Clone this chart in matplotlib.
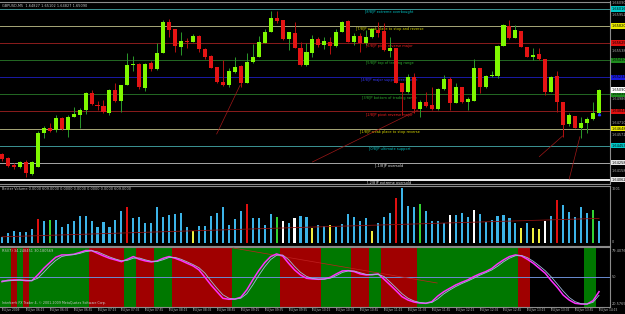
import numpy as np
import matplotlib
matplotlib.use("Agg")
import matplotlib.pyplot as plt

plt.rcParams['font.family'] = 'DejaVu Sans'

# ------------------------------------------------------------------ data
title = 'GBPUSD,M5  1.64827 1.65102 1.64827 1.65090'
vol_title = 'Better Volume 0.0000 609.0000 0.0000 0.0000 0.0000 0.0000 609.0000'
rsi_title = 'RSI(7) 34.248451 30.180569'
footer = 'Interbank FX Trader 4, \u00a9 2001-2009 MetaQuotes Software Corp.'

opens = [1.64357, 1.64311, 1.64230, 1.64207, 1.64265, 1.64127, 1.64207, 1.64597, 1.64655, 1.64632,
         1.64769, 1.64632, 1.64781, 1.64804, 1.64861, 1.65056, 1.64918, 1.64907, 1.64827, 1.65090,
         1.64964, 1.65148, 1.65377, 1.65388, 1.65113, 1.65400, 1.65331, 1.65514, 1.65870, 1.65790,
         1.65583, 1.65652, 1.65641, 1.65709, 1.65560, 1.65480, 1.65354, 1.65182, 1.65148, 1.65297,
         1.65365, 1.65171, 1.65411, 1.65469, 1.65629, 1.65755, 1.65916, 1.65893, 1.65675, 1.65744,
         1.65572, 1.65377, 1.65514, 1.65675, 1.65606, 1.65641, 1.65595, 1.65755, 1.65881, 1.65641,
         1.65709, 1.65629, 1.65698, 1.65778, 1.65767, 1.65537, 1.65572, 1.65171, 1.65067, 1.65239,
         1.64872, 1.64953, 1.64918, 1.64872, 1.65102, 1.65216, 1.64941, 1.65125, 1.64953, 1.64964,
         1.65342, 1.65125, 1.65251, 1.65251, 1.65595, 1.65824, 1.65686, 1.65767, 1.65583, 1.65469,
         1.65503, 1.65446, 1.65067, 1.65251, 1.64953, 1.64700, 1.64792, 1.64655, 1.64712, 1.64758,
         1.64827]
highs = [1.64368, 1.64322, 1.64253, 1.64276, 1.64288, 1.64276, 1.64620, 1.64678, 1.64712, 1.64804,
         1.64781, 1.64804, 1.64895, 1.64884, 1.65067, 1.65090, 1.64964, 1.64976, 1.65102, 1.65171,
         1.65148, 1.65514, 1.65480, 1.65400, 1.65400, 1.65423, 1.65629, 1.65893, 1.65904, 1.65790,
         1.65755, 1.65686, 1.65732, 1.65721, 1.65572, 1.65491, 1.65354, 1.65434, 1.65342, 1.65469,
         1.65377, 1.65514, 1.65618, 1.65709, 1.65790, 1.65996, 1.65996, 1.65893, 1.65755, 1.65870,
         1.65641, 1.65629, 1.65721, 1.65698, 1.65698, 1.65698, 1.65790, 1.65881, 1.65893, 1.65744,
         1.65744, 1.65778, 1.65801, 1.65870, 1.65858, 1.65698, 1.65572, 1.65171, 1.65274, 1.65285,
         1.64976, 1.65067, 1.65125, 1.65113, 1.65262, 1.65239, 1.65171, 1.65125, 1.65010, 1.65446,
         1.65342, 1.65262, 1.65308, 1.65606, 1.65847, 1.65893, 1.65835, 1.65767, 1.65583, 1.65572,
         1.65572, 1.65446, 1.65251, 1.65308, 1.64953, 1.64827, 1.64792, 1.64781, 1.64781, 1.64953,
         1.65102]
lows = [1.64276, 1.64207, 1.64185, 1.64196, 1.64093, 1.64116, 1.64207, 1.64540, 1.64609, 1.64609,
        1.64632, 1.64551, 1.64781, 1.64655, 1.64815, 1.64918, 1.64861, 1.64827, 1.64804, 1.64953,
        1.64838, 1.65148, 1.65308, 1.65102, 1.65079, 1.65308, 1.65320, 1.65514, 1.65698, 1.65526,
        1.65491, 1.65572, 1.65641, 1.65526, 1.65446, 1.65342, 1.65171, 1.65136, 1.65125, 1.65285,
        1.65125, 1.65171, 1.65400, 1.65469, 1.65629, 1.65755, 1.65858, 1.65663, 1.65549, 1.65572,
        1.65365, 1.65365, 1.65469, 1.65583, 1.65560, 1.65503, 1.65583, 1.65755, 1.65641, 1.65606,
        1.65526, 1.65606, 1.65686, 1.65698, 1.65537, 1.65469, 1.65171, 1.64804, 1.65056, 1.64827,
        1.64781, 1.64895, 1.64861, 1.64861, 1.65090, 1.64861, 1.64941, 1.64941, 1.64861, 1.64964,
        1.65056, 1.65113, 1.65239, 1.65228, 1.65595, 1.65675, 1.65686, 1.65583, 1.65469, 1.65434,
        1.65434, 1.65033, 1.65067, 1.64838, 1.64551, 1.64678, 1.64655, 1.64540, 1.64597, 1.64746,
        1.64827]
closes = [1.64299, 1.64219, 1.64207, 1.64265, 1.64139, 1.64265, 1.64597, 1.64655, 1.64620, 1.64769,
          1.64643, 1.64781, 1.64815, 1.64861, 1.65056, 1.64930, 1.64907, 1.64838, 1.65090, 1.64964,
          1.65148, 1.65377, 1.65388, 1.65125, 1.65388, 1.65331, 1.65514, 1.65870, 1.65778, 1.65595,
          1.65652, 1.65641, 1.65709, 1.65560, 1.65469, 1.65342, 1.65182, 1.65148, 1.65308, 1.65354,
          1.65171, 1.65411, 1.65469, 1.65641, 1.65755, 1.65916, 1.65881, 1.65675, 1.65755, 1.65572,
          1.65377, 1.65526, 1.65675, 1.65606, 1.65652, 1.65595, 1.65755, 1.65870, 1.65641, 1.65709,
          1.65629, 1.65698, 1.65790, 1.65744, 1.65549, 1.65572, 1.65171, 1.65067, 1.65239, 1.64872,
          1.64953, 1.64907, 1.64872, 1.65102, 1.65216, 1.64941, 1.65125, 1.64953, 1.64987, 1.65342,
          1.65125, 1.65251, 1.65262, 1.65595, 1.65835, 1.65686, 1.65778, 1.65583, 1.65469, 1.65491,
          1.65446, 1.65067, 1.65239, 1.64953, 1.64689, 1.64804, 1.64655, 1.64712, 1.64758, 1.64827,
          1.65090]

volumes = [166, 277, 332, 305, 305, 388, 665, 609, 637, 637,
           443, 526, 609, 748, 748, 609, 443, 582, 443, 637,
           886, 997, 693, 720, 554, 554, 997, 720, 776, 803,
           831, 443, 332, 471, 471, 748, 831, 997, 499, 665,
           886, 1080, 693, 693, 499, 803, 720, 609, 554, 693,
           748, 720, 416, 499, 471, 499, 443, 526, 803, 720,
           609, 693, 332, 554, 720, 831, 1247, 1524, 1025, 997,
           1080, 886, 609, 609, 554, 776, 776, 831, 720, 914,
           803, 582, 637, 748, 776, 693, 554, 416, 554, 416,
           388, 609, 748, 1191, 1053, 859, 720, 997, 831, 914,
           609]
# c=normal, r=climax, g=churn, w=low volume churn, y=low volume
vol_kind = list('ccccccrcgccccccccccccrccccccccccyccccccccrccccgwcwccyccyccccccycccrcccgccccwcccwcccccccycyywcrcccccgc')
vol_ma_bars = [0, 52, 100]
vol_ma = [180, 450, 690]

rsi = [45.2, 46.7, 47.1, 47.1, 46.3, 46.3, 52.6, 59.9, 66.1, 72.0,
       74.6, 74.6, 75.3, 77.2, 79.4, 79.4, 76.4, 73.5, 70.9, 69.1,
       67.2, 69.8, 72.8, 69.8, 68.0, 66.9, 68.0, 70.9, 72.8, 70.9,
       68.4, 65.4, 62.5, 58.1, 50.0, 41.6, 34.2, 26.9, 25.8, 26.1,
       28.0, 36.1, 47.1, 57.3, 66.1, 72.8, 75.7, 73.5, 65.4, 58.1,
       52.6, 48.9, 48.2, 47.8, 48.2, 50.0, 53.7, 57.0, 57.3, 56.2,
       53.7, 52.6, 52.9, 53.7, 47.8, 41.6, 35.3, 28.7, 25.0, 22.8,
       21.7, 21.4, 23.2, 29.4, 34.2, 37.9, 41.6, 44.5, 47.1, 50.7,
       53.7, 56.2, 59.5, 64.7, 69.1, 72.8, 74.6, 73.5, 69.8, 65.4,
       59.9, 54.4, 46.3, 39.0, 30.5, 25.0, 21.4, 20.6, 20.6, 24.3,
       34.2]
rsi_signal = [46.0, 46.0, 46.6, 46.9, 46.8, 46.4, 49.0, 55.5, 62.5, 68.5,
              72.8, 74.3, 74.9, 76.2, 78.2, 79.2, 78.0, 75.2, 72.4, 70.1,
              68.2, 68.6, 71.0, 71.2, 69.2, 67.6, 67.4, 69.3, 71.8, 71.9,
              69.8, 67.0, 64.0, 60.5, 54.5, 46.0, 38.0, 30.8, 27.0, 26.0,
              27.0, 32.0, 41.5, 52.0, 61.5, 69.5, 74.2, 74.5, 69.5, 62.0,
              55.5, 51.0, 48.7, 48.0, 48.0, 49.0, 51.8, 55.3, 57.0, 56.9,
              55.0, 53.2, 52.8, 53.3, 50.8, 44.8, 38.5, 32.0, 27.0, 24.0,
              22.3, 21.6, 22.3, 26.3, 31.8, 36.0, 39.8, 43.0, 45.8, 48.9,
              52.2, 55.0, 57.9, 62.1, 67.0, 71.0, 73.7, 74.1, 71.6, 67.6,
              62.6, 57.2, 50.4, 42.7, 34.8, 27.8, 23.2, 21.0, 20.6, 22.5,
              30.2]
# g=bull zone, r=bear zone, k=no zone
rsi_zone = list('ggrgrggggggggggrrrrrrggrrrgggrrrrrrrrrrggggggggrrrrrrrgggggrrrggrrrrrrgggggggggggggggggrrkkkkkkkkkggk')

mm_levels = [1.660156, 1.658203, 1.656250, 1.654297, 1.652344, 1.650391,
             1.648438, 1.646484, 1.644531, 1.642578, 1.640625]
mm_labels = ['[8/8]P extreme overbought', '[7/8]P weak place to stop and reverse',
             '[6/8]P pivot reverse major', '[5/8]P top of trading range',
             '[4/8]P major support/resistance', '[3/8]P bottom of trading range',
             '[2/8]P pivot reverse major', '[1/8]P weak place to stop reverse',
             '[0/8]P ultimate support', '[-1/8]P oversold', '[-2/8]P extreme oversold']
price_ticks = [1.66090, 1.65952, 1.65814, 1.65676, 1.65538, 1.65400, 1.65262, 1.65124,
               1.64986, 1.64848, 1.64710, 1.64572, 1.64434, 1.64296, 1.64158, 1.64020]

# user trend lines: (bar0, price0, bar1, price1)
price_trends = [(39.9, 1.65148, 35.96, 1.64586),
                (69.7, 1.64861, 52.0, 1.64265),
                (93.9, 1.64563, 90.0, 1.64326),
                (96.8, 1.64555, 95.0, 1.64067)]
rsi_trend = (38.7, 82.2, 72.9, 43.7)

time_bars = list(range(0, 101, 4))
time_labels = ['24 Jun 2009', '24 Jun 06:15', '24 Jun 06:35', '24 Jun 06:55', '24 Jun 07:15',
               '24 Jun 07:35', '24 Jun 07:55', '24 Jun 08:15', '24 Jun 08:35', '24 Jun 08:55',
               '24 Jun 09:15', '24 Jun 09:35', '24 Jun 09:55', '24 Jun 10:15', '24 Jun 10:35',
               '24 Jun 10:55', '24 Jun 11:15', '24 Jun 11:35', '24 Jun 11:55', '24 Jun 12:15',
               '24 Jun 12:35', '24 Jun 12:55', '24 Jun 13:15', '24 Jun 13:35', '24 Jun 13:55',
               '24 Jun 14:15']

# ------------------------------------------------------------------ styles
mm_line_col = ['#3c9494', '#a8a878', '#8b1c1c', '#246a24', '#1a1aa6', '#246a24',
               '#8b1c1c', '#a8a878', '#3c9494', '#a8a8a8', '#ffffff']
mm_text_col = ['#00c8c8', '#e0e000', '#ff2020', '#2eb02e', '#3a3aff', '#2eb02e',
               '#ff2020', '#e0e000', '#00c8c8', '#e8e8e8', '#e8e8e8']
mm_box_col = ['#00c8c8', '#e8e800', '#e01010', '#1e8c1e', '#1818e0', '#1e8c1e',
              '#e01010', '#e8e800', '#00c8c8', '#e8e8e8', '#e8e8e8']
vol_pal = {'c': '#3cb4e8', 'r': '#e01010', 'g': '#32d232', 'w': '#ffffff', 'y': '#f0f040'}
zone_pal = {'g': '#007800', 'r': '#a00000', 'k': '#000000'}
grey = '#8c8c8c'
txt = '#c8c8c8'
FS = 2.5

W, H = 625.0, 314.0


def rect(x0, y0, x1, y1):
    return [x0 / W, 1 - y1 / H, (x1 - x0) / W, (y1 - y0) / H]


fig = plt.figure(figsize=(6.25, 3.14), dpi=100, facecolor='black')
ax_p = fig.add_axes(rect(0, 1.5, 610, 183.5))
ax_v = fig.add_axes(rect(0, 185.5, 610, 245.5))
ax_r = fig.add_axes(rect(0, 247, 610, 306.5))

xlim = (-0.335, 101.84)
for ax in (ax_p, ax_v, ax_r):
    ax.set_facecolor('black')
    ax.set_xlim(*xlim)
    ax.set_xticks([])
    ax.set_yticks([])
    for s in ax.spines.values():
        s.set_color(grey)
        s.set_linewidth(0.8)
    ax.spines['left'].set_visible(False)

x = np.arange(len(opens))
o = np.array(opens)
c = np.array(closes)

######################## price panel #######################
ax_p.set_ylim(1.64018, 1.66105)
for lvl, lc in zip(mm_levels, mm_line_col):
    ax_p.axhline(lvl, color=lc, lw=1.3 if lc == '#ffffff' else 0.7, zorder=1)
for lvl, lab, tc in zip(mm_levels, mm_labels, mm_text_col):
    ax_p.annotate(lab, (64.9, lvl), xytext=(0, -2.2), textcoords='offset points',
                  ha='center', va='center', fontsize=FS, color=tc, zorder=2)

up = c >= o
ax_p.vlines(x, lows, highs, colors=np.where(up, '#2a9a2a', '#b41010'), lw=0.7, zorder=3)
body = np.maximum(np.abs(c - o), 0.00008)
ax_p.bar(x, body, bottom=np.minimum(o, c), width=0.68,
         color=np.where(up, '#80f800', '#e41414'), linewidth=0, zorder=4)

for b0, p0, b1, p1 in price_trends:
    ax_p.plot([b0, b1], [p0, p1], color='#a01818', lw=0.5, zorder=5)
ax_p.plot(x[-1], lows[-1] - 0.0001, marker='^', ms=1.6, color='#2040ff', zorder=6)

ax_p.text(0.004, 0.985, title, transform=ax_p.transAxes, va='top', ha='left',
          fontsize=FS, color=txt)

# right price scale: grey ticks, hidden where a level box sits on top of them
ytr = ax_p.get_yaxis_transform()
boxed = mm_levels + [closes[-1]]
for t in price_ticks:
    if min(abs(t - b) for b in boxed) < 0.00053 or t < 1.64030:
        continue
    ax_p.text(1.003, t, f'{t:.5f}', transform=ytr, va='center', ha='left',
              fontsize=FS, color='#b0b0b0', clip_on=False)
for lvl, bc in zip(mm_levels, mm_box_col):
    ax_p.text(1.003, lvl, f'{lvl:.5f}', transform=ytr, va='center', ha='left',
              fontsize=FS, color='black', clip_on=False, zorder=8,
              bbox=dict(boxstyle='square,pad=0.25', fc=bc, ec='none'))
ax_p.text(1.003, closes[-1], f'{closes[-1]:.5f}', transform=ytr, va='center', ha='left',
          fontsize=FS, color='black', clip_on=False, zorder=9,
          bbox=dict(boxstyle='square,pad=0.25', fc='white', ec='none'))

######################## volume panel #######################
ax_v.set_ylim(-61, 1601)
ax_v.bar(x, volumes, width=0.35, color=[vol_pal[k] for k in vol_kind], linewidth=0, zorder=3)
ax_v.plot(vol_ma_bars, vol_ma, color='#8b1010', lw=0.6, zorder=4)
ax_v.text(0.004, 0.97, vol_title, transform=ax_v.transAxes, va='top', ha='left',
          fontsize=FS, color=txt)
ax_v.text(1.003, 0.97, '1601', transform=ax_v.transAxes, va='top', ha='left',
          fontsize=FS, color='#b0b0b0', clip_on=False)
ax_v.text(1.003, 0.03, '0', transform=ax_v.transAxes, va='bottom', ha='left',
          fontsize=FS, color='#b0b0b0', clip_on=False)

######################## rsi panel #######################
rlo, rhi = 17.9, 83.3
ax_r.set_ylim(rlo, rhi)
ax_r.bar(x, rhi - rlo, bottom=rlo, width=1.0, color=[zone_pal[k] for k in rsi_zone],
         linewidth=0, zorder=1)
ax_r.axhline(50, color='#6a8cd2', lw=0.7, zorder=2)
ax_r.plot([rsi_trend[0], rsi_trend[2]], [rsi_trend[1], rsi_trend[3]], color='#c02020',
          lw=0.5, zorder=3)
ax_r.plot(x, rsi, color='#ff30ff', lw=1.1, zorder=4)
ax_r.plot(x, rsi_signal, color='#a0b8dc', lw=0.6, zorder=5)
ax_r.text(0.004, 0.97, rsi_title, transform=ax_r.transAxes, va='top', ha='left',
          fontsize=FS, color=txt, zorder=6)
ax_r.text(0.004, 0.03, footer, transform=ax_r.transAxes, va='bottom', ha='left',
          fontsize=2.3, color=txt, zorder=6)
rtr = ax_r.get_yaxis_transform()
for val, lab in [(79.4, '79.4076'), (50, '50'), (20.6, '20.5765')]:
    ax_r.text(1.003, val, lab, transform=rtr, va='center', ha='left',
              fontsize=FS, color='#b0b0b0', clip_on=False)

xtr = ax_r.get_xaxis_transform()
for b, lab in zip(time_bars, time_labels):
    ax_r.text(b, -0.03, lab, transform=xtr, va='top', ha='left', fontsize=2.1,
              color=txt, clip_on=False)
    ax_r.plot([b, b], [-0.01, -0.05], transform=xtr, color=grey, lw=0.5, clip_on=False)

fig.savefig('out.png', dpi=100, facecolor='black')
